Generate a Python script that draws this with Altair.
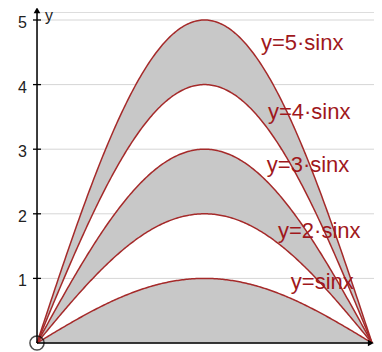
import altair as alt
import numpy as np
import pandas as pd

multipliers = [1, 2, 3, 4, 5]
shaded_pairs = [(0, 1), (2, 3), (4, 5)]
labels = ["y=sinx", "y=2·sinx", "y=3·sinx", "y=4·sinx", "y=5·sinx"]
label_x = [2.38, 2.26, 2.155, 2.165, 2.10]
label_y = [0.836, 1.625, 2.647, 3.467, 4.536]
y_ticks = [1, 2, 3, 4, 5]
y_tick_labels = ["1", "2", "3", "4", "5"]

xs = np.linspace(0, np.pi, 241)
curve_df = pd.DataFrame(
    [{"x": x, "k": k, "y": k * np.sin(x)} for k in multipliers for x in xs]
)
band_df = pd.DataFrame(
    [{"x": x, "band": f"{lo}-{hi}", "lo": lo * np.sin(x), "hi": hi * np.sin(x)}
     for lo, hi in shaded_pairs for x in xs]
)
label_df = pd.DataFrame({"x": label_x, "y": label_y, "t": labels})
tick_df = pd.DataFrame({"v": y_ticks, "t": y_tick_labels})
origin_df = pd.DataFrame({"x": [0.0], "y": [0.0]})
yaxis_df = pd.DataFrame({"x": [0.0], "y": [0.0], "y2": [5.12]})
xaxis_df = pd.DataFrame({"x": [0.0], "x2": [3.12], "y": [0.0]})
yarrow_df = pd.DataFrame({"x": [0.0], "y": [5.15]})
xarrow_df = pd.DataFrame({"x": [3.13], "y": [0.0]})
ylabel_df = pd.DataFrame({"x": [0.074], "y": [4.985], "t": ["y"]})

XS = alt.Scale(domain=[0, 3.16], nice=False, zero=False)
YS = alt.Scale(domain=[0, 331 / 64.6], nice=False, zero=False)
RED = "#a52a2a"
TXT = "#a0181c"


def X(f):
    return alt.X(f, scale=XS, axis=None)


def Y(f):
    return alt.Y(f, scale=YS, axis=None)


grid = alt.Chart(tick_df).mark_rule(color="#d6d6d6", strokeWidth=1).encode(
    y=Y("v:Q"), x=alt.value(0), x2=alt.value(337)
)

bands = alt.Chart(band_df).mark_area(color="#c8c8c8", opacity=1).encode(
    x=X("x:Q"), y=Y("lo:Q"), y2="hi:Q", detail="band:N"
)

curves = alt.Chart(curve_df).mark_line(color=RED, strokeWidth=1.5).encode(
    x=X("x:Q"), y=Y("y:Q"), detail="k:N"
)

texts = alt.Chart(label_df).mark_text(
    align="left", baseline="alphabetic", font="Liberation Sans", fontSize=22, color=TXT
).encode(x=X("x:Q"), y=Y("y:Q"), text="t:N")

yaxis = alt.Chart(yaxis_df).mark_rule(color="black", strokeWidth=1.5).encode(
    x=X("x:Q"), y=Y("y:Q"), y2="y2:Q"
)
xaxis = alt.Chart(xaxis_df).mark_rule(color="black", strokeWidth=1.5).encode(
    x=X("x:Q"), x2="x2:Q", y=Y("y:Q")
)

ticks = alt.Chart(tick_df).mark_rule(color="black", strokeWidth=1.3).encode(
    y=Y("v:Q"), x=alt.value(-4), x2=alt.value(4)
)

tick_labels = alt.Chart(tick_df).mark_text(
    align="right", baseline="alphabetic", dy=8, font="Liberation Sans", fontSize=16,
    color="#222222"
).encode(y=Y("v:Q"), x=alt.value(-10), text="t:N")

origin = alt.Chart(origin_df).mark_point(
    shape="circle", size=200, filled=False, color="black", strokeWidth=1.5, clip=False
).encode(x=X("x:Q"), y=Y("y:Q"))

yarrow = alt.Chart(yarrow_df).mark_point(
    shape="triangle-up", size=45, filled=True, color="black", opacity=1, clip=False
).encode(x=X("x:Q"), y=Y("y:Q"))

xarrow = alt.Chart(xarrow_df).mark_point(
    shape="triangle-right", size=45, filled=True, color="black", opacity=1, clip=False
).encode(x=X("x:Q"), y=Y("y:Q"))

ylabel = alt.Chart(ylabel_df).mark_text(
    align="left", baseline="alphabetic", font="Liberation Sans", fontSize=16, color="#222222"
).encode(x=X("x:Q"), y=Y("y:Q"), text="t:N")

chart = alt.layer(
    grid, bands, curves, texts, yaxis, xaxis, ticks, tick_labels, origin, yarrow, xarrow, ylabel
).properties(
    width=337,
    height=331,
    padding={"left": 29, "top": 4, "right": 0, "bottom": 9},
    autosize=alt.AutoSizeParams(type="none"),
).configure_view(strokeWidth=0).configure(background="white")

chart.save("out.html", embed_options={"renderer": "svg", "actions": False})
